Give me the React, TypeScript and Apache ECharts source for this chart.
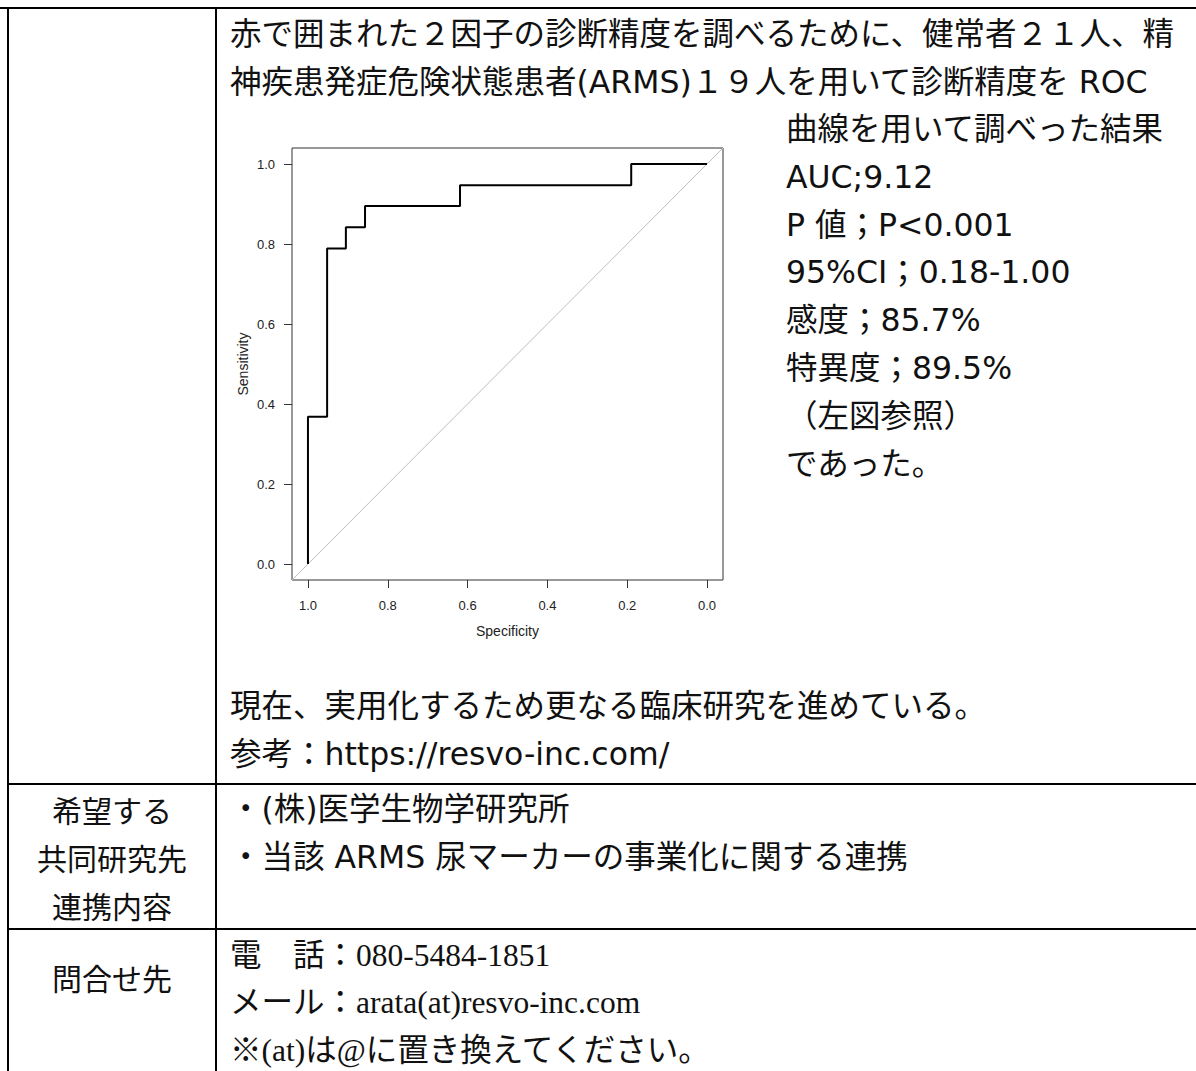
import React, { useEffect, useRef } from "react";
import * as echarts from "echarts";

// ROC curve (specificity on x, reversed; sensitivity on y)
const specificity = [1, 1, 0.952, 0.952, 0.905, 0.905, 0.857, 0.857, 0.619, 0.619, 0.19, 0.19, 0];
const sensitivity = [0, 0.368, 0.368, 0.789, 0.789, 0.842, 0.842, 0.895, 0.895, 0.947, 0.947, 1, 1];
// chance diagonal (spans the whole plot region)
const chanceSpec = [1.04, -0.04];
const chanceSens = [-0.04, 1.04];
const tickValues = [0, 0.2, 0.4, 0.6, 0.8, 1.0];
const axisMin = -0.04;
const axisMax = 1.04;

const introLines = [
  "赤で囲まれた２因子の診断精度を調べるために、健常者２１人、精",
  "神疾患発症危険状態患者(ARMS)１９人を用いて診断精度を ROC",
];
const resultLines = [
  "曲線を用いて調べった結果",
  "AUC;9.12",
  "P 値；P<0.001",
  "95%CI；0.18-1.00",
  "感度；85.7%",
  "特異度；89.5%",
  "（左図参照）",
  "であった。",
];
const closingLines = ["現在、実用化するため更なる臨床研究を進めている。", "参考：https://resvo-inc.com/"];
const partnerLabel = ["希望する", "共同研究先", "連携内容"];
const partnerLines = ["・(株)医学生物学研究所", "・当該 ARMS 尿マーカーの事業化に関する連携"];
const contactLabel = "問合せ先";
const contactLines = ["電　話：080-5484-1851", "メール：arata(at)resvo-inc.com", "※(at)は@に置き換えてください。"];

const JP = "'DejaVu Sans', 'Noto Sans CJK JP', sans-serif";
const JP_ONLY = "'Noto Sans CJK JP', sans-serif";
const SERIF = "'Liberation Serif', 'Noto Sans CJK JP', serif";
const CHART_FONT = "'Liberation Sans', Arial, sans-serif";

function txt(text: string, x: number, y: number, opts: any = {}) {
  return {
    type: "text",
    x,
    y,
    silent: true,
    style: {
      text,
      fill: "#111",
      fontSize: opts.fontSize ?? 31.5,
      fontFamily: opts.fontFamily ?? JP,
      align: opts.align ?? "left",
      verticalAlign: "middle",
    },
  };
}

function ln(x1: number, y1: number, x2: number, y2: number) {
  return {
    type: "line",
    silent: true,
    shape: { x1, y1, x2, y2 },
    style: { stroke: "#000", lineWidth: 2 },
  };
}

export default function App() {
  const ref = useRef<HTMLDivElement>(null);
  useEffect(() => {
    if (!ref.current) return;
    const chart = echarts.init(ref.current, null, { renderer: "svg" });
    const lineStep = 47.8;
    const graphics: any[] = [
      // table rules
      ln(0, 8, 1196, 8),
      ln(8, 7, 8, 1071),
      ln(216, 7, 216, 1071),
      ln(7, 784, 1196, 784),
      ln(7, 929, 1196, 929),
    ];
    introLines.forEach((t, i) => graphics.push(txt(t, 230, 34 + i * lineStep)));
    resultLines.forEach((t, i) => graphics.push(txt(t, 786, 129 + i * lineStep)));
    closingLines.forEach((t, i) => graphics.push(txt(t, 230, 706 + i * lineStep)));
    partnerLabel.forEach((t, i) =>
      graphics.push(txt(t, 112, 809 + i * lineStep, { fontSize: 30, align: "center", fontFamily: JP_ONLY }))
    );
    partnerLines.forEach((t, i) => graphics.push(txt(t, 230, 809 + i * lineStep)));
    graphics.push(txt(contactLabel, 112, 977, { fontSize: 30, align: "center", fontFamily: JP_ONLY }));
    contactLines.forEach((t, i) => graphics.push(txt(t, 230, 955 + i * lineStep, { fontFamily: SERIF })));

    const axisCommon = {
      type: "value",
      min: axisMin,
      max: axisMax,
      nameLocation: "middle",
      nameTextStyle: { fontFamily: CHART_FONT, fontSize: 14, color: "#222" },
      axisLine: { show: false, onZero: false },
      splitLine: { show: false },
      axisTick: {
        show: true,
        length: 8,
        customValues: tickValues,
        lineStyle: { color: "#333", width: 1 },
      },
      axisLabel: {
        show: true,
        customValues: tickValues,
        fontFamily: CHART_FONT,
        fontSize: 13,
        color: "#222",
        margin: 17,
        formatter: (v: number) => v.toFixed(1),
      },
    };

    chart.setOption({
      animation: false,
      backgroundColor: "#fff",
      grid: {
        left: 292,
        top: 148,
        width: 431,
        height: 432,
        show: true,
        borderColor: "#333",
        borderWidth: 1,
        backgroundColor: "transparent",
      },
      xAxis: {
        ...axisCommon,
        name: "Specificity",
        nameGap: 44,
        inverse: true,
        axisLabel: { ...axisCommon.axisLabel, margin: 19 },
      },
      yAxis: { ...axisCommon, name: "Sensitivity", nameGap: 42, nameRotate: 90 },
      series: [
        {
          type: "line",
          data: chanceSpec.map((s, i) => [s, chanceSens[i]]),
          showSymbol: false,
          symbol: "none",
          lineStyle: { color: "#bebebe", width: 1 },
          silent: true,
          z: 1,
        },
        {
          type: "line",
          data: specificity.map((s, i) => [s, sensitivity[i]]),
          showSymbol: false,
          symbol: "none",
          lineStyle: { color: "#000", width: 2 },
          silent: true,
          z: 2,
        },
      ],
      graphic: graphics,
    });
    return () => chart.dispose();
  }, []);
  return (
    <div
      ref={ref}
      style={{ position: "absolute", left: 0, top: 0, width: 1196, height: 1071, background: "#fff" }}
    />
  );
}
